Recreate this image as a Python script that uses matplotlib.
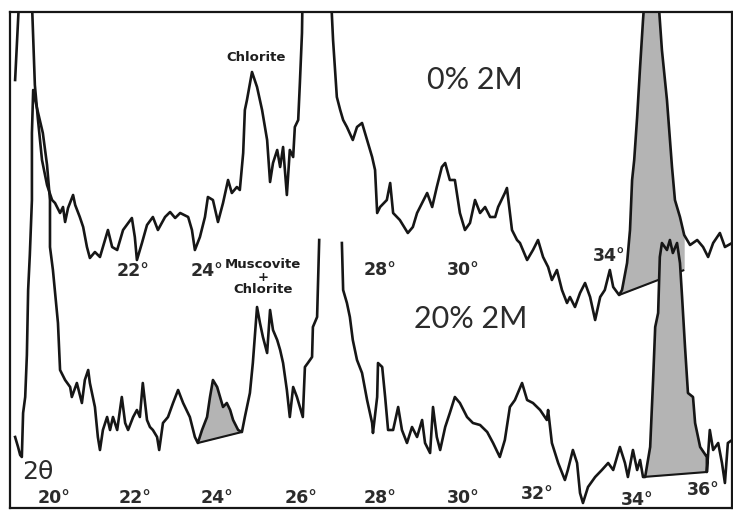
import numpy as np
import matplotlib.pyplot as plt

# 2-theta (deg) and intensity (arb. units), 0% 2M sample (upper trace)
upper_2theta = [19.36, 19.48, 19.74, 19.83, 19.90, 20.00, 20.12, 20.24, 20.31, 20.43, 20.50, 20.55,
                20.62, 20.74, 20.79, 20.90, 20.98, 21.07, 21.14, 21.26, 21.38, 21.45, 21.57, 21.67,
                21.79, 21.93, 22.14, 22.21, 22.26, 22.38, 22.50, 22.64, 22.76, 22.93, 23.05, 23.17,
                23.29, 23.48, 23.57, 23.64, 23.76, 23.88, 23.95, 24.07, 24.19, 24.31, 24.43, 24.52,
                24.64, 24.71, 24.79, 24.83, 24.88, 25.00, 25.12, 25.24, 25.36, 25.43, 25.50, 25.60,
                25.67, 25.74, 25.83, 25.90, 25.98, 26.02, 26.10, 26.14, 26.19, 26.21, 26.86, 26.93,
                27.02, 27.10, 27.17, 27.26, 27.40, 27.50, 27.62, 27.74, 27.86, 27.93, 27.98, 28.05,
                28.21, 28.29, 28.36, 28.52, 28.71, 28.83, 28.93, 29.05, 29.17, 29.29, 29.40, 29.52,
                29.60, 29.71, 29.83, 29.95, 30.07, 30.19, 30.31, 30.43, 30.55, 30.67, 30.79, 30.86,
                31.02, 31.07, 31.19, 31.31, 31.38, 31.55, 31.69, 31.81, 31.93, 32.05, 32.14, 32.26,
                32.38, 32.50, 32.57, 32.69, 32.81, 32.93, 33.05, 33.17, 33.29, 33.40, 33.52, 33.60,
                33.74, 33.81, 33.93, 34.00, 34.05, 34.10, 34.17, 34.24, 34.31, 34.38, 34.64, 34.76,
                34.88, 35.00, 35.07, 35.19, 35.29, 35.43, 35.60, 35.74, 35.86, 35.98, 36.14, 36.26,
                36.43]
upper_counts = [428, 530, 530, 423, 390, 348, 323, 308, 305, 295, 301, 286,
                300, 313, 303, 291, 281, 261, 250, 256, 251, 261, 278, 261,
                258, 278, 290, 271, 248, 265, 283, 291, 278, 291, 296, 290,
                295, 291, 278, 258, 271, 291, 311, 308, 286, 305, 328, 315,
                321, 318, 355, 398, 408, 436, 421, 398, 368, 326, 345, 358,
                341, 361, 313, 358, 351, 381, 388, 425, 475, 530, 530, 468,
                411, 398, 388, 381, 368, 381, 385, 368, 351, 338, 295, 301,
                308, 325, 295, 288, 275, 281, 295, 305, 315, 301, 321, 341,
                345, 328, 328, 295, 278, 285, 308, 295, 301, 291, 291, 301,
                315, 320, 278, 268, 265, 248, 258, 268, 251, 241, 228, 238,
                218, 205, 211, 201, 215, 225, 211, 188, 211, 218, 238, 221,
                213, 218, 245, 278, 328, 348, 391, 441, 488, 530, 530, 458,
                408, 341, 308, 291, 273, 263, 268, 261, 251, 265, 275, 261,
                265]

# 20% 2M sample (lower trace); NaN where the pen ran off the 26.6 deg peak
lower_2theta = [19.36, 19.43, 19.48, 19.52, 19.55, 19.60, 19.64, 19.67, 19.71, 19.76, 19.76, 19.79,
                19.88, 20.02, 20.12, 20.19, 20.19, 20.26, 20.38, 20.43, 20.55, 20.67, 20.71, 20.83,
                20.95, 21.02, 21.10, 21.14, 21.26, 21.33, 21.38, 21.45, 21.55, 21.62, 21.69, 21.79,
                21.90, 21.98, 22.05, 22.17, 22.26, 22.33, 22.40, 22.50, 22.57, 22.64, 22.74, 22.79,
                22.88, 23.00, 23.12, 23.24, 23.36, 23.52, 23.64, 23.71, 23.81, 23.93, 24.00, 24.07,
                24.17, 24.24, 24.31, 24.40, 24.48, 24.55, 24.67, 24.76, 24.83, 24.95, 25.02, 25.12,
                25.19, 25.26, 25.36, 25.43, 25.50, 25.60, 25.67, 25.74, 25.83, 25.90, 25.98, 26.07,
                26.14, 26.21, 26.26, 26.33, 26.43, 26.45, 26.55, 26.60, 26.87, 27.14, 27.17, 27.26,
                27.33, 27.40, 27.50, 27.62, 27.74, 27.86, 27.88, 27.98, 28.00, 28.10, 28.17, 28.24,
                28.36, 28.48, 28.57, 28.69, 28.81, 28.93, 29.05, 29.12, 29.24, 29.31, 29.40, 29.48,
                29.60, 29.71, 29.83, 29.95, 30.12, 30.26, 30.43, 30.60, 30.74, 30.90, 31.02, 31.14,
                31.26, 31.43, 31.55, 31.69, 31.86, 32.02, 32.05, 32.14, 32.29, 32.45, 32.52, 32.64,
                32.74, 32.81, 32.88, 33.00, 33.17, 33.33, 33.48, 33.60, 33.76, 33.88, 33.95, 34.07,
                34.17, 34.24, 34.31, 34.36, 34.48, 34.55, 34.60, 34.67, 34.71, 34.76, 34.88, 34.95,
                35.02, 35.12, 35.19, 35.24, 35.31, 35.38, 35.50, 35.55, 35.67, 35.83, 35.83, 35.90,
                35.98, 36.10, 36.19, 36.26, 36.33, 36.43]
lower_counts = [71, 61, 53, 51, 95, 111, 153, 218, 253, 308, 375, 418,
                400, 375, 343, 308, 261, 238, 185, 138, 128, 121, 111, 125,
                105, 128, 138, 125, 101, 71, 58, 78, 91, 78, 91, 78,
                111, 85, 78, 91, 98, 91, 125, 88, 81, 78, 71, 58,
                85, 91, 105, 118, 105, 91, 71, 65, 78, 91, 111, 128,
                121, 111, 101, 105, 98, 88, 78, 76, 91, 115, 145, 201,
                185, 171, 155, 198, 178, 168, 158, 145, 118, 91, 121, 111,
                101, 91, 141, 145, 151, 181, 191, 268, np.nan, 265, 218, 205,
                191, 168, 148, 135, 108, 85, 75, 111, 145, 141, 111, 78,
                78, 101, 78, 65, 81, 71, 88, 65, 55, 101, 71, 58,
                81, 95, 111, 105, 91, 85, 83, 76, 65, 51, 68, 101,
                108, 125, 108, 105, 98, 88, 98, 65, 45, 28, 38, 58,
                45, 15, 5, 21, 31, 38, 45, 38, 61, 45, 31, 58,
                38, 48, 31, 31, 61, 128, 181, 195, 251, 265, 258, 268,
                255, 265, 245, 211, 161, 115, 111, 85, 61, 51, 36, 78,
                58, 65, 45, 25, 65, 68]

# straight baselines drawn under the shaded 2M peaks (2-theta, counts)
upper_peak_base = ([33.74, 35.29], [213, 238])
small_peak_base = ([23.71, 24.76], [65, 76])
lower_peak_base = ([34.31, 35.83], [31, 36])

upper_tick_labels = ['22°', '24°', '28°', '30°', '34°']
upper_tick_pos = [(22.17, 237), (23.93, 237), (28.05, 238), (30.02, 238), (33.50, 252)]
lower_tick_labels = ['20°', '22°', '24°', '26°', '28°', '30°', '32°', '34°', '36°']
lower_tick_pos = [(20.29, 10), (22.21, 10), (24.17, 10), (26.17, 10), (28.05, 10),
                  (30.02, 10), (31.79, 14), (34.17, 8), (35.74, 18)]

INK = '#161616'
SHADE = '#b4b4b4'


def shade_peak(ax, x, y, base, z):
    x = np.asarray(x, dtype=float)
    y = np.asarray(y, dtype=float)
    bx, by = base
    m = (x >= bx[0]) & (x <= bx[1])
    b = np.interp(x[m], bx, by)
    ax.fill_between(x[m], y[m], b, color=SHADE, lw=0, zorder=z)
    ax.plot(bx, by, color=INK, lw=1.5, zorder=z + 0.5, solid_capstyle='butt')


def make_plot():
    fig = plt.figure(figsize=(7.33, 5.11), dpi=100, facecolor='white')
    ax = fig.add_axes([10 / 733, 3 / 511, 722 / 733, 496 / 511])
    ax.set_xlim(19 + 10 / 42, 19 + 732 / 42)
    ax.set_ylim(0, 496)
    ax.set_xticks([])
    ax.set_yticks([])
    for s in ax.spines.values():
        s.set_color(INK)
        s.set_linewidth(1.6)

    # upper trace (0% 2M)
    shade_peak(ax, upper_2theta, upper_counts, upper_peak_base, 1)
    ax.plot(upper_2theta, upper_counts, color=INK, lw=1.9, zorder=2)

    # lower trace (20% 2M)
    shade_peak(ax, lower_2theta, lower_counts, small_peak_base, 3)
    shade_peak(ax, lower_2theta, lower_counts, lower_peak_base, 3)
    ax.plot(lower_2theta, lower_counts, color=INK, lw=1.9, zorder=4)

    for lab, (x, y) in zip(upper_tick_labels, upper_tick_pos):
        ax.text(x, y, lab, ha='center', va='center', fontsize=12.5, fontweight='bold',
                color='#2b2b2b', zorder=5)
    for lab, (x, y) in zip(lower_tick_labels, lower_tick_pos):
        ax.text(x, y, lab, ha='center', va='center', fontsize=12.5, fontweight='bold',
                color='#2b2b2b', zorder=5)

    ax.text(19.90, 36, '2θ', ha='center', va='center', fontsize=18, color='#2b2b2b')
    ax.text(25.10, 451, 'Chlorite', ha='center', va='center', fontsize=9.5,
            fontweight='bold', color='#1e1e1e')
    ax.text(25.26, 231, 'Muscovite\n+\nChlorite', ha='center', va='center', fontsize=9.5,
            fontweight='bold', color='#1e1e1e', linespacing=0.95)
    ax.text(30.31, 428, '0% 2M', ha='center', va='center', fontsize=22,
            family=['Lato', 'DejaVu Sans'], color='#2b2b2b')
    ax.text(30.21, 189, '20% 2M', ha='center', va='center', fontsize=22,
            family=['Lato', 'DejaVu Sans'], color='#2b2b2b')

    fig.savefig('out.png', dpi=100, facecolor='white')
    plt.close('all')


if __name__ == "__main__":
    make_plot()
